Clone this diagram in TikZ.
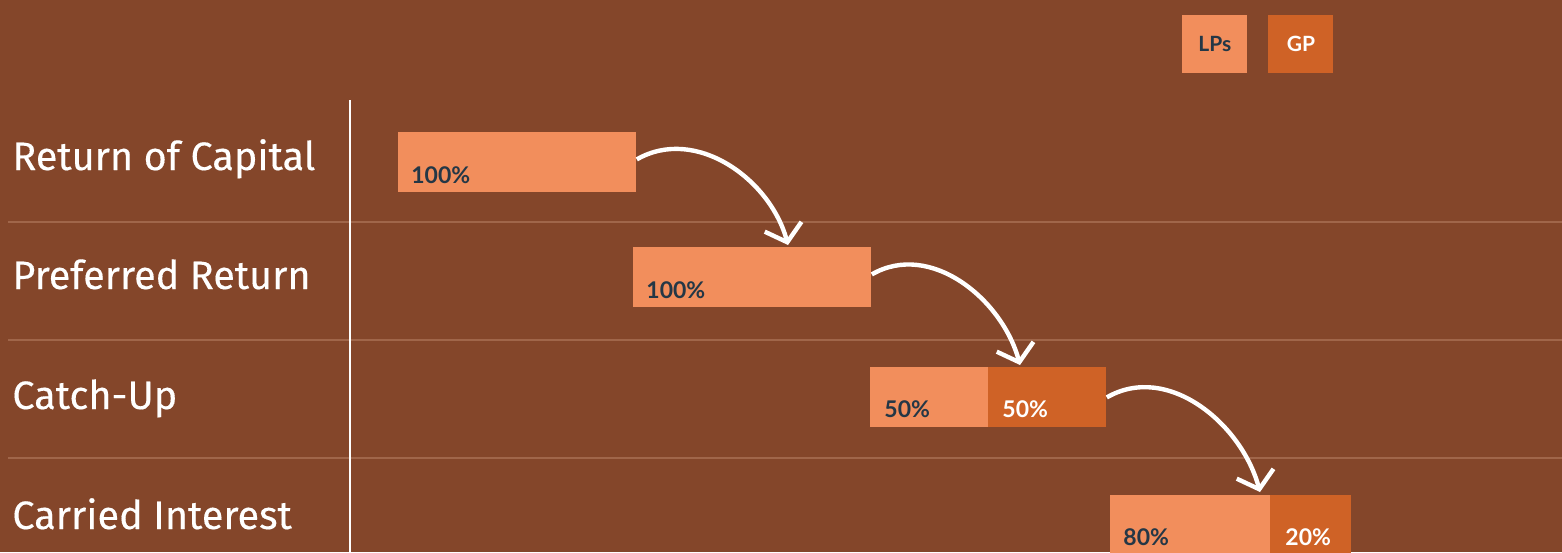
\documentclass[tikz,border=0pt]{standalone}
\usepackage{fontspec}
\setmainfont{Lato}
\newfontfamily\stagefont[FakeBold=0.3]{Fira Sans}
\usetikzlibrary{positioning,calc,arrows.meta}
\definecolor{bgbrown}{HTML}{84462A}
\definecolor{lpcol}{HTML}{F28E5C}
\definecolor{gpcol}{HTML}{CF6226}
\definecolor{navy}{HTML}{243746}
\definecolor{rulecol}{HTML}{A0664A}

\begin{document}
\begin{tikzpicture}[x=0.5pt,y=-0.5pt,
  lpbar/.style={fill=lpcol, inner sep=0, minimum height=30pt},
  gpbar/.style={fill=gpcol, inner sep=0, minimum height=30pt},
  pct/.style={font=\bfseries\fontsize{11.5}{12}\selectfont, text=navy, inner sep=0, anchor=base west},
  stage/.style={font=\stagefont\fontsize{19.8}{20}\selectfont, text=white, inner sep=0, anchor=base west},
  flow/.style={white, line width=2.2pt, -{Straight Barb[length=8pt,width=19pt]}}]
  % Background and frame
  \fill[bgbrown] (0,0) rectangle (1562,552);
  \useasboundingbox (0,0) rectangle (1562,552);

  % Row separators and axis
  \foreach \y in {222,340,458}
    \draw[rulecol, line width=1pt] (8,\y) -- (1562,\y);
  \draw[white, line width=1.4pt] (350,100) -- (350,552);

  % Stage names
  \node[stage] (s1) at (12,170) {Return of Capital};
  \node[stage] (s2) at (12,289) {Preferred Return};
  \node[stage] (s3) at (12,409) {Catch-Up};
  \node[stage] (s4) at (12,529) {Carried Interest};

  % Legend
  \node[lpbar, minimum width=32.5pt, minimum height=29pt, anchor=north west,
        font=\bfseries\fontsize{10.5}{11}\selectfont, text=navy] (leglp) at (1182,15) {LPs};
  \node[gpbar, minimum width=32.5pt, minimum height=29pt, anchor=north west,
        font=\bfseries\fontsize{10.5}{11}\selectfont, text=white] (leggp) at (1268,15) {GP};

  % Bars
  \node[lpbar, minimum width=119pt, anchor=north west] (r1) at (398,132) {};
  \node[lpbar, minimum width=119pt, anchor=north west] (r2) at (633,247) {};
  \node[lpbar, minimum width=59.5pt, anchor=north west] (r3a) at (870,367) {};
  \node[gpbar, minimum width=59pt, anchor=north west] (r3b) at (988,367) {};
  \node[lpbar, minimum width=80.5pt, anchor=north west] (r4a) at (1110,495) {};
  \node[gpbar, minimum width=40.5pt, anchor=north west] (r4b) at (1270,495) {};

  % Shares
  \node[pct] (p1) at ($(r1.south west)+(13,-9)$) {100\%};
  \node[pct] (p2) at ($(r2.south west)+(13,-9)$) {100\%};
  \node[pct] (p3a) at ($(r3a.south west)+(14,-10)$) {50\%};
  \node[pct, text=white] (p3b) at ($(r3b.south west)+(14,-10)$) {50\%};
  \node[pct] (p4a) at ($(r4a.south west)+(13,-10)$) {80\%};
  \node[pct, text=white] (p4b) at ($(r4b.south west)+(15,-10)$) {20\%};

  % Waterfall arrows
  \coordinate (t1) at ($(r2.north west)+(155,-2)$);
  \coordinate (t2) at ($(r3a.north west)+(150,-2)$);
  \coordinate (t3) at ($(r4a.north west)+(150,-3)$);
  \draw[flow] ($(r1.east)+(0,-3)$) to[out=30,in=105] (t1);
  \draw[flow] ($(r2.east)+(0,-3)$) to[out=30,in=105] (t2);
  \draw[flow] (r3b.east) to[out=30,in=105] (t3);
\end{tikzpicture}
\end{document}
